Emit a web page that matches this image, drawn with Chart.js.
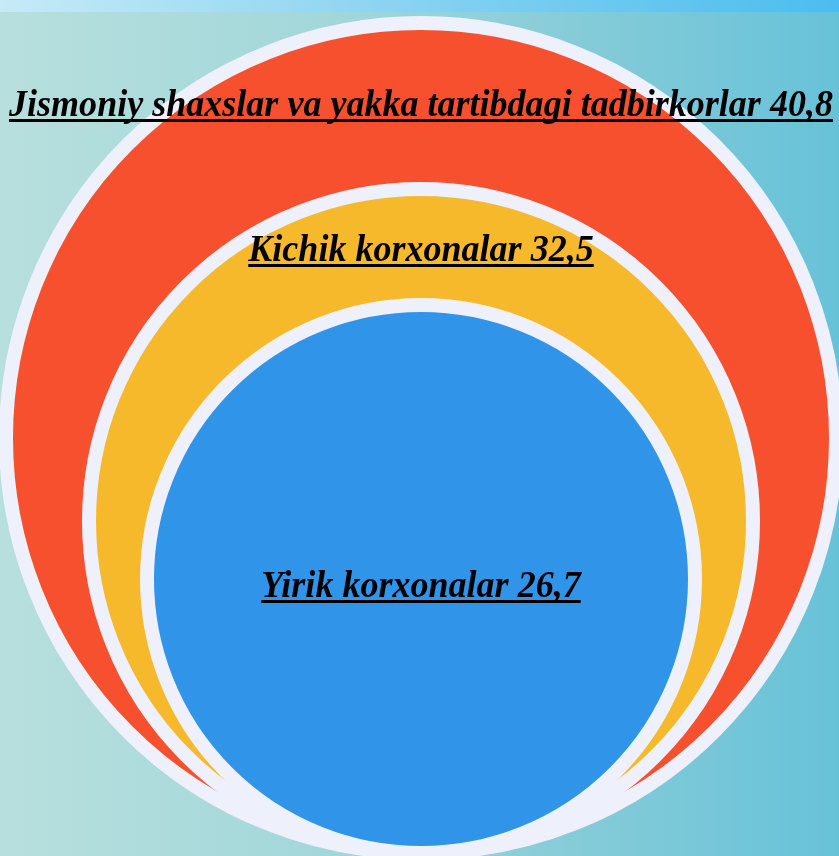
<!DOCTYPE html>
<html lang="uz">
  <head>
    <meta charset="UTF-8" />
    <title>Korxonalar ulushi</title>
    <script src="https://cdn.jsdelivr.net/npm/chart.js"></script>
    <style>
      html, body { margin: 0; padding: 0; }
      body {
        width: 839px;
        height: 856px;
        overflow: hidden;
        background: linear-gradient(90deg, #b7dfdd 0%, #a2d7da 40%, #84cbd8 70%, #67c2d8 100%);
        position: relative;
      }
      .topband {
        position: absolute; left: 0; top: 0; width: 839px; height: 12px;
        background: linear-gradient(90deg, #c6eaf7 0%, #7fd0f0 55%, #4bbdee 100%);
      }
      canvas { position: absolute; left: 0; top: 0; }
    </style>
  </head>
  <body>
    <div class="topband"></div>
    <canvas id="doiralar" width="839" height="856"></canvas>

    <script>
      // ma'lumotlar (foizda)
      var nomlar = ["Jismoniy shaxslar va yakka tartibdagi tadbirkorlar", "Kichik korxonalar", "Yirik korxonalar"];
      var qiymatlar = [40.8, 32.5, 26.7];
      var ranglar = ["#f7502e", "#f7b92c", "#3095e9"];

      var chegara = 14; // oq hoshiya qalinligi

      // radiusni y shkalasi orqali hisoblaymiz
      function radius(chart, v) {
        var y = chart.scales.y;
        return Math.abs(y.getPixelForValue(0) - y.getPixelForValue(v));
      }

      var yozuvlar = {
        id: "yozuvlar",
        afterDatasetsDraw: function (chart) {
          var ctx = chart.ctx;
          var meta = chart.getDatasetMeta(0);
          var pastga = [86, 65, 285]; // yozuv bazaviy chizig'i, doira tepasidan
          ctx.save();
          ctx.fillStyle = "#000";
          ctx.font = "bold italic 37px 'Liberation Serif'";
          ctx.textBaseline = "alphabetic";
          meta.data.forEach(function (el, i) {
            var r = radius(chart, qiymatlar[i]);
            var tepa = el.y - r;
            var matn = nomlar[i] + " " + String(qiymatlar[i]).replace(".", ",");
            var w = ctx.measureText(matn).width;
            var sx = 0.974;
            var bx = el.x;
            var by = tepa + pastga[i];
            ctx.save();
            ctx.translate(bx, by);
            ctx.scale(sx, 1);
            ctx.textAlign = "center";
            ctx.fillText(matn, 0, 0);
            ctx.restore();
            ctx.fillRect(bx - (w * sx) / 2, by + 3, w * sx, 3);
          });
          ctx.restore();
        },
      };

      new Chart(document.getElementById("doiralar"), {
        type: "scatter",
        data: {
          labels: nomlar,
          datasets: [
            {
              data: qiymatlar.map(function (v) {
                return { x: 0, y: v };
              }),
              backgroundColor: ranglar,
              borderColor: "#eef0fb",
              borderWidth: chegara,
              pointRadius: function (c) {
                return radius(c.chart, qiymatlar[c.dataIndex]) + chegara / 2;
              },
              pointHoverRadius: function (c) {
                return radius(c.chart, qiymatlar[c.dataIndex]) + chegara / 2;
              },
              clip: false,
            },
          ],
        },
        options: {
          responsive: false,
          animation: false,
          layout: { padding: 0 },
          events: [],
          plugins: { legend: { display: false }, tooltip: { enabled: false } },
          scales: {
            x: { display: false, min: -42.1, max: 41.8 },
            y: { display: false, min: -1, max: 84.6 },
          },
        },
        plugins: [yozuvlar],
      });
    </script>
  </body>
</html>
